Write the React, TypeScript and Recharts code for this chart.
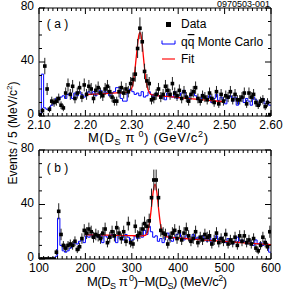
import React from 'react';
import { ComposedChart, Line, Scatter, XAxis, YAxis, ErrorBar } from 'recharts';

const FONT = "'Liberation Sans', Arial, Helvetica, sans-serif";

// ---------- Panel (a): M(Ds pi0), 5 MeV bins, 2.100 - 2.600 GeV ----------
const binLowA = 2.1;
const binWidthA = 0.005;
const countsA = [
  1, 4, 37, 20, 5, 11, 10, 11, 13, 8,
  6, 17, 23, 16, 22, 13, 17, 21, 14, 23,
  16, 22, 20, 13, 19, 21, 17, 15, 20, 22,
  18, 14, 11, 11, 18, 21, 17, 20, 18, 24,
  27, 31, 50, 65, 55, 33, 26, 24, 12, 13,
  16, 20, 14, 16, 22, 19, 16, 24, 17, 15,
  19, 13, 18, 14, 11, 16, 18, 21, 13, 11,
  15, 14, 12, 17, 13, 10, 18, 9, 16, 11,
  15, 14, 18, 12, 16, 12, 12, 14, 17, 9,
  17, 14, 16, 10, 8, 11, 12, 7, 10, 1,
];
const mcA = [
  0, 31, 6, 5, 5, 8, 10, 13, 12, 14,
  15, 13, 16, 17, 13, 17, 15, 18, 16, 14,
  17, 18, 16, 18, 15, 17, 19, 16, 18, 17,
  15, 17, 18, 21, 21, 13, 11, 11, 17, 20,
  18, 16, 17, 15, 18, 14, 15, 18, 16, 14,
  17, 15, 13, 16, 12, 17, 15, 14, 18, 13,
  15, 17, 19, 14, 12, 16, 18, 15, 13, 11,
  16, 14, 12, 15, 10, 13, 16, 11, 14, 12,
  9, 13, 15, 11, 14, 8, 12, 14, 10, 13,
  11, 8, 14, 12, 7, 10, 13, 9, 11, 8,
];
const fitXA = [2.2, 2.22, 2.24, 2.26, 2.28, 2.29, 2.295, 2.3, 2.305, 2.31, 2.3125, 2.315, 2.3175, 2.32, 2.3225, 2.325, 2.33, 2.335, 2.34, 2.35, 2.375, 2.4, 2.425, 2.45, 2.475, 2.5];
const fitYA = [15.8, 16.2, 16.6, 17.0, 17.4, 17.7, 18.3, 20.8, 29, 45, 53, 59.5, 62, 59.5, 53, 44, 27.5, 19.5, 16.3, 15.3, 14.5, 13.7, 12.9, 12.1, 11.3, 10.6];
const domainA: [number, number] = [2.1, 2.6];
const xMajorA = [2.1, 2.2, 2.3, 2.4, 2.5, 2.6];
const xLabelsA = ['2.10', '2.20', '2.30', '2.40', '2.50', '2.60'];
const xMinorStepA = 0.01;

// ---------- Panel (b): M(Ds pi0) - M(Ds), 5 MeV bins, 100 - 600 MeV ----------
const binLowB = 100;
const binWidthB = 5;
const countsB = [
  0, 0, 0, 0, 0, 0, 0, 5, 35, 18,
  10, 8, 10, 11, 10, 13, 7, 9, 15, 21,
  19, 22, 20, 16, 18, 17, 15, 19, 22, 12,
  16, 20, 17, 23, 19, 15, 20, 13, 26, 12,
  11, 24, 17, 19, 22, 26, 24, 28, 45, 58,
  58, 45, 21, 19, 18, 11, 16, 19, 21, 15,
  20, 14, 19, 22, 17, 13, 15, 20, 12, 16,
  14, 18, 16, 17, 11, 14, 19, 12, 15, 13,
  18, 11, 14, 12, 16, 10, 17, 13, 17, 12,
  14, 11, 15, 8, 6, 10, 16, 12, 9, 20,
];
const mcB = [
  0, 0, 0, 0, 0, 0, 0, 2, 30, 10,
  6, 5, 6, 8, 10, 12, 11, 13, 14, 12,
  17, 16, 18, 15, 17, 16, 18, 12, 17, 16,
  15, 18, 16, 12, 17, 17, 14, 18, 16, 13,
  14, 17, 15, 18, 16, 21, 18, 24, 20, 16,
  17, 13, 15, 12, 16, 19, 14, 13, 16, 18,
  20, 16, 14, 17, 15, 13, 18, 15, 16, 14,
  17, 15, 13, 16, 12, 15, 17, 14, 16, 13,
  12, 15, 14, 11, 13, 16, 12, 14, 13, 11,
  13, 12, 10, 14, 11, 12, 10, 13, 11, 5,
];
const fitXB = [200, 225, 250, 275, 300, 320, 330, 334, 338, 342, 346, 350, 354, 358, 362, 366, 370, 376, 385, 400, 450, 500, 550, 600];
const fitYB = [17.8, 17.7, 17.5, 17.3, 17.1, 17.0, 17.6, 20, 26, 37, 49, 55, 49, 36, 25, 19.5, 17.2, 16.3, 15.9, 15.4, 14.1, 12.9, 11.7, 10.5];
const domainB: [number, number] = [100, 600];
const xMajorB = [100, 200, 300, 400, 500, 600];
const xLabelsB = ['100', '200', '300', '400', '500', '600'];
const xMinorStepB = 10;

// ---------- shared y axis ----------
const yDomain: [number, number] = [0, 80];
const yMajor = [0, 40, 80];
const yLabels = ['0', '40', '80'];
const yMinorStep = 10;

// ---------- helpers ----------
const TM = 4;
const MAJOR_LEN = 6;
const MINOR_LEN = 3;

function grid(lo: number, hi: number, step: number) {
  const n = Math.round((hi - lo) / step);
  return Array.from({ length: n + 1 }, (_, i) => +(lo + i * step).toFixed(6));
}
function findLabel(v: number, majors: number[], labels: string[]) {
  const k = majors.findIndex((m) => Math.abs(m - v) < 1e-6);
  return k >= 0 ? labels[k] : null;
}
function buildPoints(counts: number[], lo: number, w: number) {
  return counts.map((n, i) => ({ x: +(lo + (i + 0.5) * w).toFixed(6), y: n, err: Math.sqrt(n) }));
}
function buildHist(counts: number[], lo: number, w: number) {
  const rows = counts.map((n, i) => ({ x: +(lo + i * w).toFixed(6), y: n }));
  rows.push({ x: +(lo + counts.length * w).toFixed(6), y: counts[counts.length - 1] });
  return rows;
}
function buildFit(xs: number[], ys: number[]) {
  return xs.map((x, i) => ({ x, y: ys[i] }));
}

const Square = (props: any) => {
  const { cx, cy } = props;
  if (cx == null || cy == null) return null;
  return <rect x={cx - 1.8} y={cy - 1.8} width={3.6} height={3.6} fill="#000" />;
};

const textStyle = { fontFamily: FONT, fontSize: 12, fill: '#000' };

function Panel(props: {
  points: any[]; hist: any[]; fit: any[]; domain: [number, number];
  xMajor: number[]; xLabels: string[]; xStep: number; height: number; marginBottom: number;
}) {
  const { points, hist, fit, domain, xMajor, xLabels, xStep, height, marginBottom } = props;
  const xTicks = grid(domain[0], domain[1], xStep);
  const yTicks = grid(yDomain[0], yDomain[1], yMinorStep);

  const xBottomTick = (p: any) => {
    const v = p.payload.value;
    const lab = findLabel(v, xMajor, xLabels);
    const ay = p.y - TM;
    const len = lab ? MAJOR_LEN : MINOR_LEN;
    return (
      <g>
        <line x1={p.x} x2={p.x} y1={ay} y2={ay - len} stroke="#000" strokeWidth={1} />
        {lab && <text x={p.x} y={p.y + 0.5} dy="0.71em" textAnchor="middle" style={textStyle}>{lab}</text>}
      </g>
    );
  };
  const xTopTick = (p: any) => {
    const v = p.payload.value;
    const lab = findLabel(v, xMajor, xLabels);
    const ay = p.y + TM;
    const len = lab ? MAJOR_LEN : MINOR_LEN;
    return <line x1={p.x} x2={p.x} y1={ay} y2={ay + len} stroke="#000" strokeWidth={1} />;
  };
  const yLeftTick = (p: any) => {
    const v = p.payload.value;
    const lab = findLabel(v, yMajor, yLabels);
    const ax = p.x + TM;
    const len = lab ? MAJOR_LEN : MINOR_LEN;
    return (
      <g>
        <line x1={ax} x2={ax + len} y1={p.y} y2={p.y} stroke="#000" strokeWidth={1} />
        {lab && <text x={p.x - 1} y={p.y - 2} dy="0.36em" textAnchor="end" style={textStyle}>{lab}</text>}
      </g>
    );
  };
  const yRightTick = (p: any) => {
    const v = p.payload.value;
    const lab = findLabel(v, yMajor, yLabels);
    const ax = p.x - TM;
    const len = lab ? MAJOR_LEN : MINOR_LEN;
    return <line x1={ax} x2={ax - len} y1={p.y} y2={p.y} stroke="#000" strokeWidth={1} />;
  };

  return (
    <ComposedChart width={284} height={height} margin={{ top: 7, right: 12, bottom: marginBottom, left: 9 }}>
      <XAxis xAxisId="b" type="number" dataKey="x" domain={domain} ticks={xTicks} interval={0}
        tickSize={0} tickMargin={TM} tickLine={false} axisLine={{ stroke: '#000', strokeWidth: 1 }}
        height={24} tick={xBottomTick} allowDataOverflow />
      <XAxis xAxisId="t" orientation="top" type="number" dataKey="x" domain={domain} ticks={xTicks} interval={0}
        tickSize={0} tickMargin={TM} tickLine={false} axisLine={{ stroke: '#000', strokeWidth: 1 }}
        height={1} tick={xTopTick} allowDataOverflow />
      <YAxis yAxisId="l" type="number" dataKey="y" domain={yDomain} ticks={yTicks} interval={0}
        tickSize={0} tickMargin={TM} tickLine={false} axisLine={{ stroke: '#000', strokeWidth: 1 }}
        width={30} tick={yLeftTick} allowDataOverflow />
      <YAxis yAxisId="r" orientation="right" type="number" dataKey="y" domain={yDomain} ticks={yTicks} interval={0}
        tickSize={0} tickMargin={TM} tickLine={false} axisLine={{ stroke: '#000', strokeWidth: 1 }}
        width={1} tick={yRightTick} allowDataOverflow />
      <Line xAxisId="b" yAxisId="l" data={hist} dataKey="y" type="stepAfter" stroke="#0000ff"
        strokeWidth={1} dot={false} activeDot={false} isAnimationActive={false} />
      <Line xAxisId="b" yAxisId="l" data={fit} dataKey="y" type="monotone" stroke="#ff0000"
        strokeWidth={1.3} dot={false} activeDot={false} isAnimationActive={false} />
      <Scatter xAxisId="b" yAxisId="l" data={points} dataKey="y" shape={Square} isAnimationActive={false}>
        <ErrorBar dataKey="err" direction="y" width={0} stroke="#222" strokeWidth={1} isAnimationActive={false} />
      </Scatter>
    </ComposedChart>
  );
}

export default function App() {
  const pointsA = buildPoints(countsA, binLowA, binWidthA);
  const histA = buildHist(mcA, binLowA, binWidthA);
  const fitA = buildFit(fitXA, fitYA);
  const pointsB = buildPoints(countsB, binLowB, binWidthB);
  const histB = buildHist(mcB, binLowB, binWidthB);
  const fitB = buildFit(fitXB, fitYB);

  return (
    <div style={{ position: 'absolute', left: 0, top: 0, width: 284, height: 296, background: '#fff', overflow: 'hidden' }}>
      <div style={{ position: 'absolute', left: 0, top: 0 }}>
        <Panel points={pointsA} hist={histA} fit={fitA} domain={domainA} xMajor={xMajorA} xLabels={xLabelsA}
          xStep={xMinorStepA} height={142} marginBottom={2} />
      </div>
      <div style={{ position: 'absolute', left: 0, top: 142 }}>
        <Panel points={pointsB} hist={histB} fit={fitB} domain={domainB} xMajor={xMajorB} xLabels={xLabelsB}
          xStep={xMinorStepB} height={154} marginBottom={13} />
      </div>
      <svg width={284} height={296} style={{ position: 'absolute', left: 0, top: 0, pointerEvents: 'none' }}
        fontFamily={FONT} fill="#000">
        <text x={270} y={7} fontSize={9} textAnchor="end">0970503-001</text>
        <text x={57.5} y={27.5} fontSize={12} textAnchor="middle">( a )</text>
        <text x={57.5} y={172} fontSize={12} textAnchor="middle">( b )</text>

        {/* legend */}
        <rect x={166} y={22} width={5} height={5} fill="#000" />
        <text x={181} y={28.3} fontSize={12}>Data</text>
        <path d="M162,40.5 V44 H175 V40.5" fill="none" stroke="#0000ff" strokeWidth={1} />
        <text x={181} y={46} fontSize={12}>q<tspan style={{ textDecoration: 'overline' }}>q</tspan> Monte Carlo</text>
        <line x1={162} x2={175} y1={59} y2={59} stroke="#ff6f6f" strokeWidth={2} />
        <text x={181} y={63} fontSize={12}>Fit</text>

        {/* y label */}
        <text transform="translate(16.5,133) rotate(-90)" textAnchor="middle" fontSize={12}>
          Events / 5 (MeV/c<tspan dy={-4.5} fontSize={8}>2</tspan><tspan dy={4.5}>)</tspan>
        </text>

        {/* x titles */}
        <text x={148} y={142} fontSize={13} textAnchor="middle" textLength={120} lengthAdjust="spacing">
          M(D<tspan dy={3} fontSize={9}>S</tspan><tspan dy={-3}> π</tspan><tspan dy={-5} fontSize={9}> 0</tspan><tspan dy={5}>) (GeV/c</tspan><tspan dy={-5} fontSize={9}>2</tspan><tspan dy={5}>)</tspan>
        </text>
        <text x={157} y={286} fontSize={13} textAnchor="middle" textLength={140} lengthAdjust="spacing">
          M(D<tspan dy={3} fontSize={9}>S</tspan><tspan dy={-3}> π</tspan><tspan dy={-5} fontSize={9}> 0</tspan><tspan dy={5}>)−M(D</tspan><tspan dy={3} fontSize={9}>S</tspan><tspan dy={-3}>) (MeV/c</tspan><tspan dy={-5} fontSize={9}>2</tspan><tspan dy={5}>)</tspan>
        </text>
      </svg>
    </div>
  );
}
